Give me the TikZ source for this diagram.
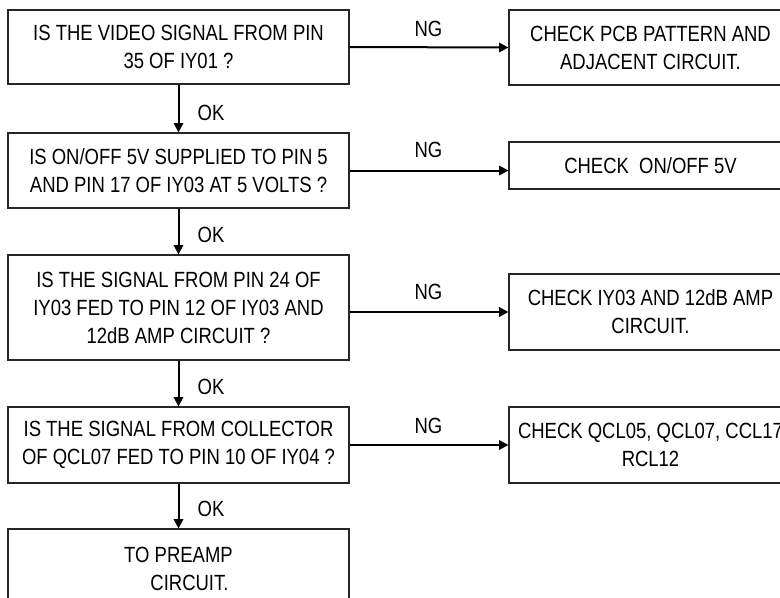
\documentclass[tikz,border=0pt]{standalone}
\usepackage{fontspec}
\setmainfont[FakeStretch=0.84]{Liberation Sans}
\usetikzlibrary{arrows.meta}
\begin{document}
\begin{tikzpicture}[x=0.75pt,y=-0.75pt,
  txt/.style={font=\fontsize{16.5}{21}\selectfont},
  lbox/.style={txt, draw=black!85, line width=0.8pt, inner sep=0, align=center, minimum width=255.75pt},
  rbox/.style={txt, draw=black!85, line width=0.8pt, inner sep=0, align=center, minimum width=212.25pt},
  lab/.style={txt, inner sep=0},
  arr/.style={line width=1.5pt, -{Triangle[length=7pt,width=7pt]}}]
\useasboundingbox (0,0) rectangle (780,597);
% left column
\node[lbox, minimum height=55.5pt] (L1) at (178.5,47) {IS THE VIDEO SIGNAL FROM PIN\\35 OF IY01 ?};
\node[lbox, minimum height=56.25pt] (L2) at (178.5,170.5) {IS ON/OFF 5V SUPPLIED TO PIN 5\\AND PIN 17 OF IY03 AT 5 VOLTS ?};
\node[lbox, minimum height=78.75pt] (L3) at (178.5,307.5) {IS THE SIGNAL FROM PIN 24 OF\\IY03 FED TO PIN 12 OF IY03 AND\\12dB AMP CIRCUIT ?};
\node[lbox, minimum height=57pt] (L4) at (178.5,445) {IS THE SIGNAL FROM COLLECTOR\\OF QCL07 FED TO PIN 10 OF IY04 ?};
\node[lbox, minimum height=60pt] (L5) at (178.5,569) {TO PREAMP\\\hspace*{16.5pt}CIRCUIT.};
% right column
\node[rbox, minimum height=56.25pt] (R1) at (650.5,47.5) {CHECK PCB PATTERN AND\\ADJACENT CIRCUIT.};
\node[rbox, minimum height=35.25pt] (R2) at (650.5,165.5) {CHECK\ \ ON/OFF 5V};
\node[rbox, minimum height=57pt] (R3) at (650.5,312) {CHECK IY03 AND 12dB AMP\\CIRCUIT.};
\node[rbox, minimum height=57pt] (R4) at (650.5,445) {CHECK QCL05, QCL07, CCL17\\RCL12};
% OK arrows
\draw[arr] (L1.south) -- (L2.north);
\draw[arr] (L2.south) -- (L3.north);
\draw[arr] (L3.south) -- (L4.north);
\draw[arr] (L4.south) -- (L5.north);
\node[lab] (ok1) at (211,113) {OK};
\node[lab] (ok2) at (211,235) {OK};
\node[lab] (ok3) at (211,387) {OK};
\node[lab] (ok4) at (211,509) {OK};
% NG arrows
\draw[arr] (L1.east) -- (R1.west);
\draw[arr] (L2.east) -- (L2.east -| R2.west);
\draw[arr] (R3.west -| L3.east) -- (R3.west);
\draw[arr] (L4.east) -- (R4.west);
\node[lab] (ng1) at (428.5,28.5) {NG};
\node[lab] (ng2) at (428.5,150) {NG};
\node[lab] (ng3) at (428.5,292) {NG};
\node[lab] (ng4) at (428.5,426) {NG};
\end{tikzpicture}
\end{document}
